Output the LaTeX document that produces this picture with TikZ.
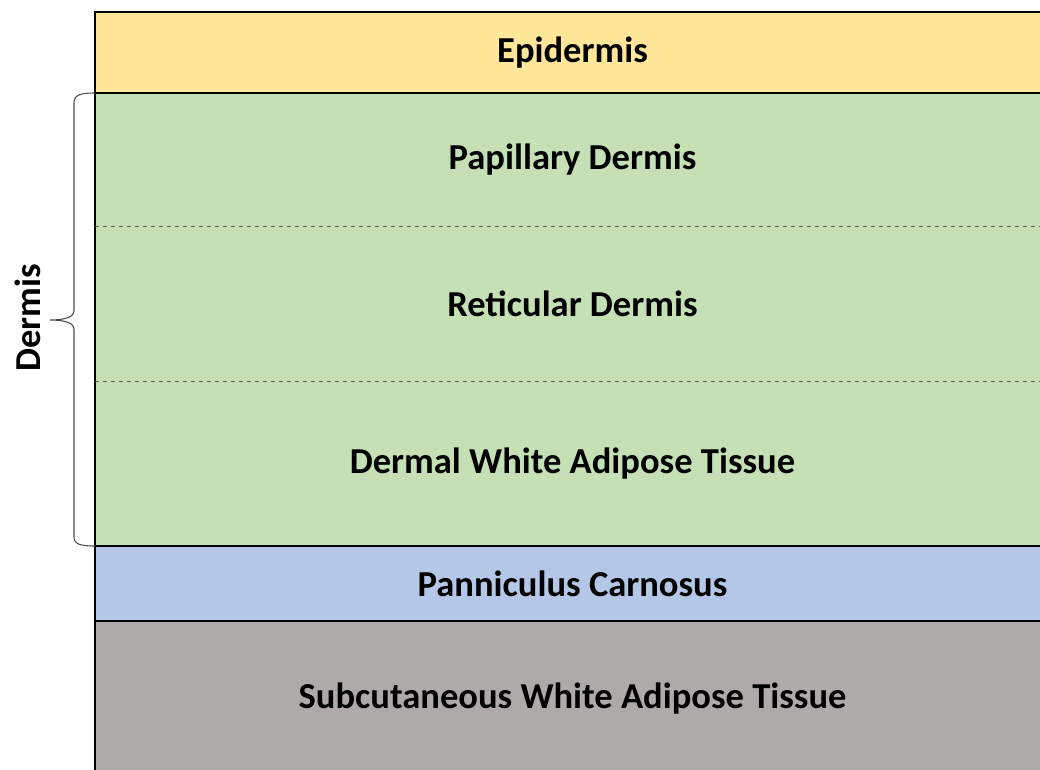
\documentclass[tikz,border=0pt]{standalone}
\usepackage{fontspec}
\setmainfont{Carlito}
\usetikzlibrary{positioning}
\definecolor{epiyellow}{HTML}{FFE699}
\definecolor{dermgreen}{HTML}{C5E0B4}
\definecolor{pannblue}{HTML}{B4C7E7}
\definecolor{subgray}{HTML}{AEAAAA}
\begin{document}
\begin{tikzpicture}[x=0.75pt,y=-0.75pt,
 layer/.style={rectangle,draw=black,line width=1.1pt,minimum width=716.25pt,inner sep=0pt,outer sep=0pt,font=\fontsize{27.4}{32}\selectfont\bfseries},
 sublayer/.style={layer,draw=none,fill=dermgreen},
 lab/.style={font=\fontsize{27.4}{32}\selectfont\bfseries}
]
 \clip (0,0) rectangle (1040,769);
 \node[layer,fill=epiyellow,minimum height=60.75pt,anchor=north west] (epi) at (95,12) {Epidermis};
 \node[sublayer,minimum height=99.75pt,below=0pt of epi] (pap) {Papillary Dermis};
 \node[sublayer,minimum height=116.25pt,below=0pt of pap] (ret) {Reticular Dermis};
 \node[sublayer,minimum height=123.75pt,below=0pt of ret] (dwat) {\raisebox{3pt}{Dermal White Adipose Tissue}};
 \node[layer,fill=pannblue,minimum height=56.25pt,below=0pt of dwat] (pc) {Panniculus Carnosus};
 \node[layer,fill=subgray,minimum height=117pt,below=0pt of pc] (swat) {Subcutaneous White Adipose Tissue};
 % dermis outline and dashed separators
 \draw[line width=1.1pt] (pap.north west) rectangle (dwat.south east);
 \draw[dashed,gray!70!black,line width=0.6pt] (pap.south west) -- (pap.south east);
 \draw[dashed,gray!70!black,line width=0.6pt] (ret.south west) -- (ret.south east);
 \draw[line width=1.1pt] (epi.north west) rectangle (epi.south east);
 % brace
 \coordinate (btop) at (pap.north west);
 \coordinate (bbot) at (dwat.south west);
 \coordinate (btip) at (50,320);
 \draw[gray!60!black,line width=0.8pt] (btop) .. controls (80,93) and (74,95) .. (74,103) -- (74,311)
   .. controls (74,318) and (62,320) .. (btip) .. controls (62,320) and (74,322) .. (74,329)
   -- (74,537) .. controls (74,544) and (80,546) .. (bbot);
 \node[lab,rotate=90] (dermis) at (28,318) {Dermis};
\end{tikzpicture}
\end{document}
